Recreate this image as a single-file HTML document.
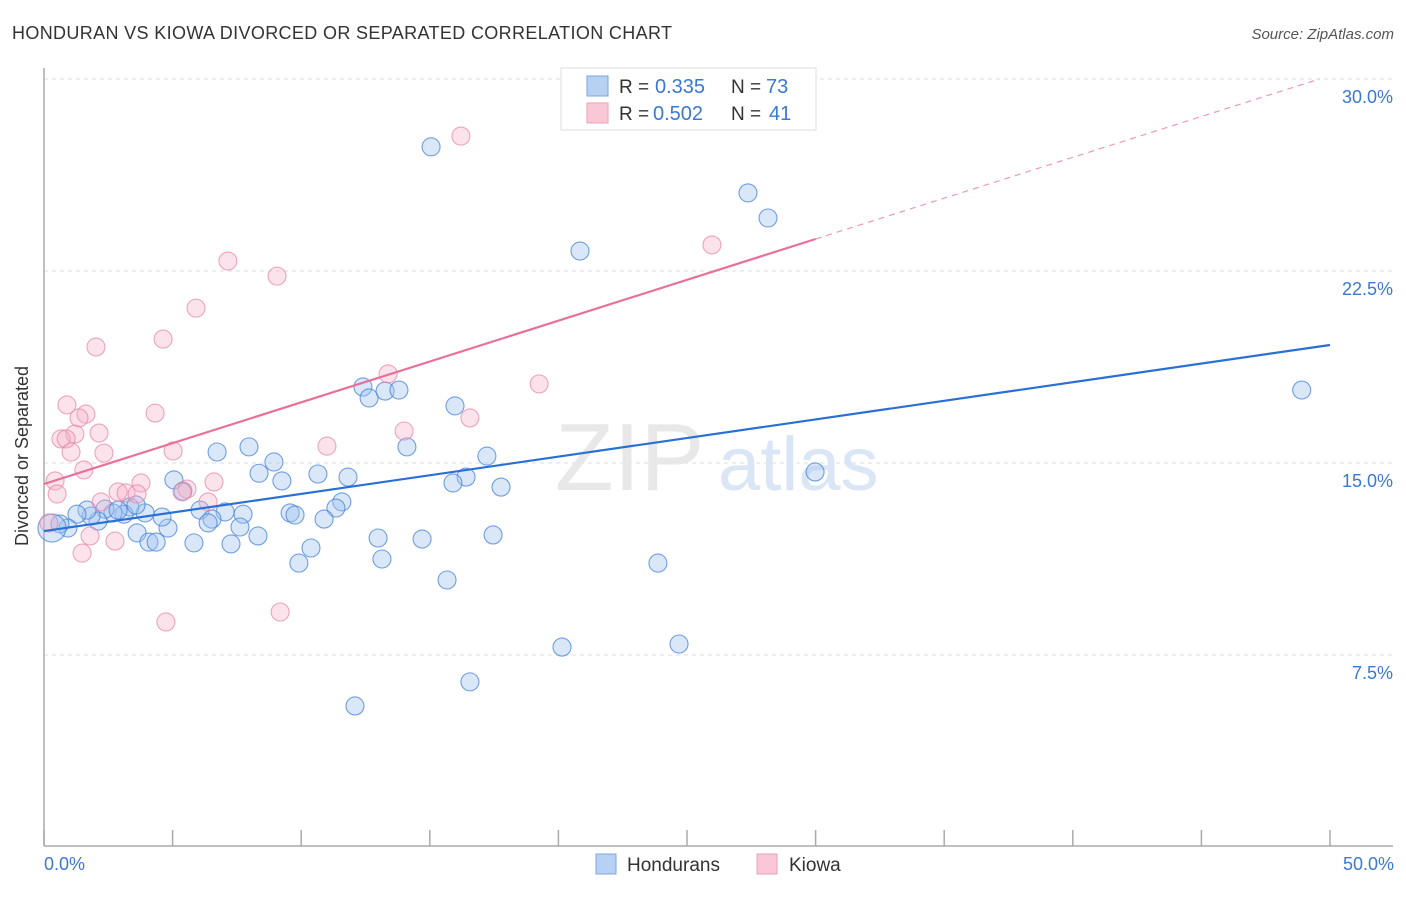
<!DOCTYPE html>
<html><head><meta charset="utf-8"><style>
body{margin:0;background:#fff;font-family:"Liberation Sans",sans-serif}
svg text{font-family:"Liberation Sans",sans-serif}
</style></head><body>
<svg id="chart" width="1406" height="892" viewBox="0 0 1406 892" xmlns="http://www.w3.org/2000/svg">
<text x="12" y="39" font-size="18" fill="#333" textLength="660">HONDURAN VS KIOWA DIVORCED OR SEPARATED CORRELATION CHART</text>
<text x="1394" y="39" font-size="15" fill="#555" font-style="italic" text-anchor="end">Source: ZipAtlas.com</text>
<g id="grid"></g>
<text x="555" y="490" font-size="96" fill="#e8e8e8" font-family="Liberation Serif">ZIP</text>
<text x="718" y="490" font-size="76" fill="#dae6f5">atlas</text>
<line x1="44" y1="68" x2="44" y2="846" stroke="#aaa" stroke-width="1.5"/>
<line x1="44" y1="846" x2="1393" y2="846" stroke="#aaa" stroke-width="1.5"/>
<g id="xticks"></g>
<g id="pts"></g>
<g id="trends"></g>
<text x="28" y="456" font-size="18" fill="#333" text-anchor="middle" transform="rotate(-90 28 456)">Divorced or Separated</text>
<text x="44" y="870" font-size="18" fill="#3a78d4">0.0%</text>
<text x="1394" y="870" font-size="18" fill="#3a78d4" text-anchor="end">50.0%</text>
<g>
<rect x="561" y="68" width="255" height="62" fill="#fff" stroke="#ddd"/>
<rect x="587" y="76" width="21" height="20" fill="#b7d1f3" stroke="#7aa5e0"/>
<rect x="587" y="103" width="21" height="20" fill="#f9c7d6" stroke="#eba0b8"/>
<text x="619" y="93" font-size="19" fill="#333">R =</text>
<text x="655" y="93" font-size="20" fill="#3a78d4">0.335</text>
<text x="731" y="93" font-size="19" fill="#333">N =</text>
<text x="766" y="93" font-size="20" fill="#3a78d4">73</text>
<text x="619" y="120" font-size="19" fill="#333">R =</text>
<text x="653" y="120" font-size="20" fill="#3a78d4">0.502</text>
<text x="731" y="120" font-size="19" fill="#333">N =</text>
<text x="769" y="120" font-size="20" fill="#3a78d4">41</text>
</g>
<g>
<rect x="596" y="854" width="20" height="20" fill="#b7d1f3" stroke="#7aa5e0"/>
<text x="627" y="871" font-size="19" fill="#333">Hondurans</text>
<rect x="757" y="854" width="20" height="20" fill="#f9c7d6" stroke="#eba0b8"/>
<text x="789" y="871" font-size="19" fill="#333">Kiowa</text>
</g>
</svg>
<script>
const yTicks=[7.5,15,22.5,30];
const yTickLabels=["7.5%","15.0%","22.5%","30.0%"];
const xTicks=[0,5,10,15,20,25,30,35,40,45,50];
const blueX=[15.05,27.37,28.15,20.84,48.9,12.4,12.64,13.26,13.8,15.98,14.11,7.97,6.73,17.22,8.94,8.36,10.65,11.82,9.25,5.05,16.41,15.9,17.77,5.4,29.98,11.58,11.35,9.57,9.76,10.89,6.07,7.04,7.74,6.53,6.38,7.62,8.32,4.82,4.59,3.93,3.34,3.11,2.68,2.37,2.1,1.83,1.67,1.28,0.93,0.62,0.31,3.62,4.08,4.36,5.83,7.27,10.38,9.91,12.99,13.14,14.7,17.46,15.67,23.87,20.14,24.69,16.56,12.09,3.58,2.88];
const blueY=[27.35,25.55,24.57,23.28,17.85,17.97,17.54,17.81,17.85,17.23,15.63,15.63,15.43,15.27,15.04,14.6,14.57,14.45,14.3,14.34,14.45,14.22,14.06,13.9,14.65,13.48,13.24,13.05,12.97,12.81,13.16,13.09,13.0,12.81,12.66,12.5,12.15,12.46,12.89,13.05,13.28,13.0,13.05,13.2,12.73,12.93,13.16,13.0,12.46,12.62,12.46,12.27,11.91,11.91,11.88,11.84,11.68,11.09,12.07,11.25,12.03,12.19,10.43,11.09,7.81,7.93,6.45,5.51,13.36,13.16];
const pinkX=[16.21,25.97,7.15,9.06,5.91,4.63,2.02,19.25,13.38,0.89,1.63,1.36,4.32,16.56,14.0,2.14,1.2,0.66,0.86,11.0,5.02,1.05,2.33,1.55,0.43,3.77,6.61,5.56,5.37,2.88,3.19,3.62,0.51,2.22,6.38,0.19,1.79,2.76,1.48,4.74,9.18];
const pinkY=[27.77,23.52,22.89,22.3,21.05,19.84,19.53,18.09,18.48,17.27,16.91,16.76,16.95,16.76,16.25,16.17,16.13,15.94,15.94,15.66,15.47,15.43,15.39,14.73,14.3,14.22,14.26,13.98,13.87,13.87,13.83,13.79,13.79,13.48,13.48,12.66,12.15,11.95,11.48,8.79,9.18];
const blueTrend=[12.34,19.61];
const pinkTrend=[14.18,23.75];
const NS="http://www.w3.org/2000/svg";
const xs=v=>44+v*25.72, ys=v=>847-v*25.6;
function mk(tag,attrs,parent){const e=document.createElementNS(NS,tag);for(const k in attrs)e.setAttribute(k,attrs[k]);parent.appendChild(e);return e;}
const grid=document.getElementById('grid');
yTicks.forEach((t,i)=>{
 const l=mk('line',{x1:44,x2:1393,y1:ys(t),y2:ys(t),stroke:'#ddd','stroke-dasharray':'4,4'},grid);
 
 
 const tx=mk('text',{x:1393,y:ys(t)+24,'font-size':18,fill:'#3a78d4','text-anchor':'end'},grid);
 tx.textContent=yTickLabels[i];
 
 
});
const xt=document.getElementById('xticks');
xTicks.forEach(t=>{
 const l=mk('line',{x1:xs(t),x2:xs(t),y1:830,y2:846,stroke:'#aaa','stroke-width':1.5},xt);
 
 
});
const pts=document.getElementById('pts');
blueX.forEach((x,i)=>{
 const c=mk('circle',{cx:xs(x),cy:ys(blueY[i]),r:(x<0.35?14:9),fill:'rgba(160,195,240,0.4)',stroke:'rgba(70,130,215,0.75)','stroke-width':1.1},pts);
 
 
});
pinkX.forEach((x,i)=>{
 const c=mk('circle',{cx:xs(x),cy:ys(pinkY[i]),r:9,fill:'rgba(245,175,198,0.35)',stroke:'rgba(228,130,165,0.7)','stroke-width':1.1},pts);
 
 
});
const tr=document.getElementById('trends');
const bl=mk('line',{x1:xs(0),y1:ys(blueTrend[0]),x2:xs(50),y2:ys(blueTrend[1]),stroke:'#2a6fd6','stroke-width':2.2},tr);


const slope=(pinkTrend[1]-pinkTrend[0])/30;
const pl=mk('line',{x1:xs(0),y1:ys(pinkTrend[0]),x2:xs(30),y2:ys(pinkTrend[1]),stroke:'#e8709a','stroke-width':2.2},tr);


const pd=mk('line',{x1:xs(30),y1:ys(pinkTrend[1]),x2:xs(49.6),y2:ys(pinkTrend[0]+slope*49.6),stroke:'#eb9ab5','stroke-width':1.2,'stroke-dasharray':'6,5'},tr);


</script>
</body></html>
